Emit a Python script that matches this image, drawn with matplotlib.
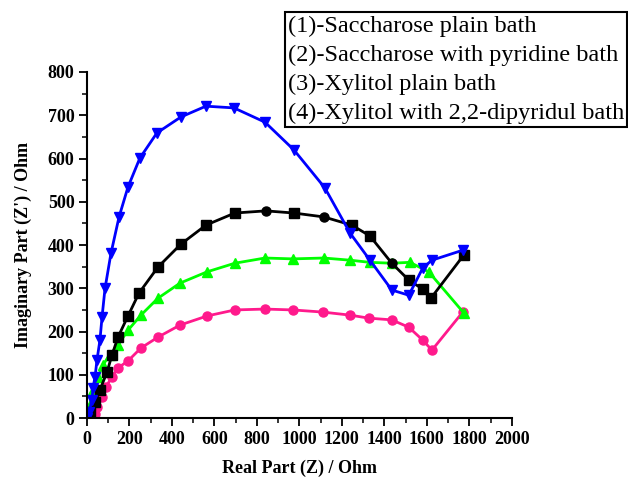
import matplotlib
matplotlib.use("Agg")
import matplotlib.pyplot as plt
import matplotlib.ticker as ticker
import numpy as np

# данные
blue_x = [0, 9, 24, 28, 38, 47, 61, 71, 85, 113, 151, 193, 249, 329, 442, 560, 692, 838, 974, 1120,
          1238, 1332, 1435, 1515, 1581, 1624, 1769]
blue_y = [0, 14, 42, 69, 95, 134, 180, 234, 300, 381, 465, 534, 601, 659, 696, 721, 717, 684, 620, 532,
          428, 365, 296, 284, 347, 365, 388]

black_x = [0, 14, 38, 61, 94, 118, 146, 193, 245, 334, 442, 560, 696, 842, 974, 1115, 1247, 1332,
           1435, 1515, 1581, 1619, 1774]
black_y = [0, 14, 37, 65, 106, 146, 187, 236, 289, 349, 402, 446, 474, 479, 474, 465, 446, 421,
           358, 319, 298, 277, 377]
black_round = [842, 1115, 1435]  # точки, нарисованные кружками

green_x = [0, 14, 28, 52, 75, 108, 146, 193, 254, 334, 438, 565, 696, 838, 969, 1115, 1238, 1332,
           1435, 1520, 1609, 1774]
green_y = [0, 30, 65, 95, 123, 146, 169, 203, 238, 277, 312, 338, 358, 370, 368, 370, 365, 360,
           358, 360, 338, 243]

pink_x = [24, 36, 47, 71, 89, 118, 146, 193, 254, 334, 438, 565, 696, 838, 969, 1111, 1238, 1327,
          1435, 1515, 1581, 1624, 1769]
pink_y = [2, 9, 25, 49, 72, 95, 116, 132, 162, 187, 215, 236, 250, 252, 250, 245, 238, 231,
          227, 210, 180, 157, 245]

legend_lines = ["(1)-Saccharose plain bath",
                "(2)-Saccharose with pyridine bath",
                "(3)-Xylitol plain bath",
                "(4)-Xylitol with 2,2-dipyridul bath"]

plt.rcParams['font.family'] = ['Liberation Serif', 'DejaVu Serif']

fig = plt.figure(figsize=(6.28, 4.80), dpi=100)
ax = fig.add_axes([0.1385, 0.129, 0.6765, 0.721])

ms = 6.5
ax.plot(pink_x, pink_y, '-o', color='#ff1a8c', lw=2, ms=ms)
ax.plot(green_x, green_y, '-^', color='#00ff00', lw=2, ms=ms)

bx = np.array(black_x)
by = np.array(black_y)
rnd = np.isin(bx, black_round)
ax.plot(bx, by, '-', color='black', lw=2)
ax.plot(bx[~rnd], by[~rnd], 's', color='black', ms=ms)
ax.plot(bx[rnd], by[rnd], 'o', color='black', ms=ms)

ax.plot(blue_x, blue_y, '-v', color='#0000ff', lw=2, ms=ms)

ax.set_xlim(0, 2000)
ax.set_ylim(0, 800)
ax.xaxis.set_major_locator(ticker.MultipleLocator(200))
ax.xaxis.set_minor_locator(ticker.MultipleLocator(100))
ax.yaxis.set_major_locator(ticker.MultipleLocator(100))
ax.yaxis.set_minor_locator(ticker.MultipleLocator(50))

ax.spines['top'].set_visible(False)
ax.spines['right'].set_visible(False)
ax.spines['left'].set_linewidth(1.5)
ax.spines['bottom'].set_linewidth(1.5)
ax.tick_params(which='major', direction='out', length=6, width=1.3, labelsize=13, pad=3)
ax.tick_params(which='minor', direction='out', length=3.5, width=1.1)
for lab in ax.get_xticklabels() + ax.get_yticklabels():
    lab.set_fontweight('bold')

ax.set_xlabel("Real Part (Z) / Ohm", fontsize=13, fontweight='bold', labelpad=9)
ax.set_ylabel("Imaginary Part (Z') / Ohm", fontsize=13, fontweight='bold', labelpad=11)

fig.text(0.458, 0.968, "\n".join(legend_lines), fontsize=17.5, va='top', ha='left',
         linespacing=1.5,
         bbox=dict(boxstyle='square,pad=0.12', facecolor='white', edgecolor='black', lw=1.5))

fig.savefig("out.png", dpi=100)
